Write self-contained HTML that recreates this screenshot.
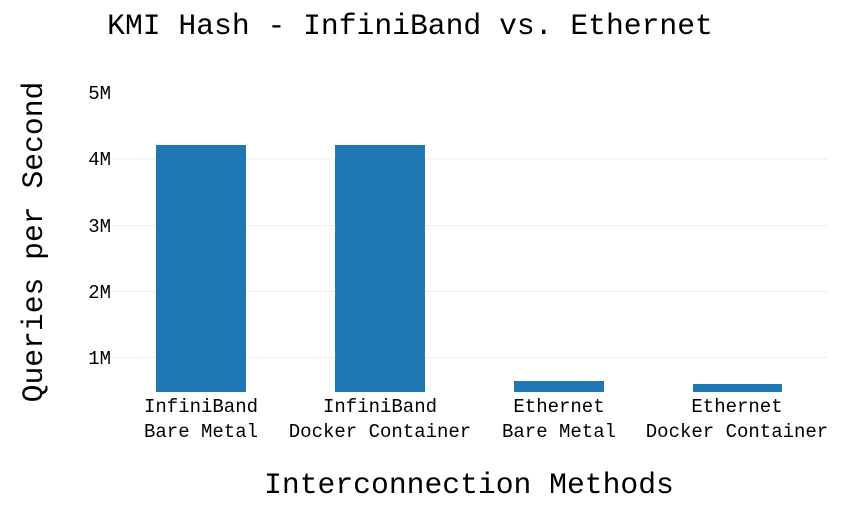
<!DOCTYPE html>
<html><head><style>body{margin:0;background:#fff}svg{display:block}text{font-family:"Liberation Mono",monospace;fill:#000}</style></head>
<body>
<svg width="856" height="521" xmlns="http://www.w3.org/2000/svg">
<g stroke="#eeeeee" stroke-width="1">
<line x1="112" x2="828" y1="159" y2="159"/>
<line x1="112" x2="828" y1="225.5" y2="225.5"/>
<line x1="112" x2="828" y1="291.5" y2="291.5"/>
<line x1="112" x2="828" y1="357.5" y2="357.5"/>
</g>
<g fill="#1f77b4">
<rect x="156" y="145" width="90" height="247"/>
<rect x="335" y="145" width="90" height="247"/>
<rect x="514" y="381" width="90" height="11"/>
<rect x="693" y="384" width="89" height="8"/>
</g>
<g font-size="19" text-anchor="end">
<text x="111" y="99">5M</text>
<text x="111" y="165">4M</text>
<text x="111" y="232">3M</text>
<text x="111" y="298">2M</text>
<text x="111" y="364">1M</text>
</g>
<g font-size="19" text-anchor="middle">
<text x="201" y="412">InfiniBand</text><text x="201" y="437">Bare Metal</text>
<text x="380" y="412">InfiniBand</text><text x="380" y="437">Docker Container</text>
<text x="559" y="412">Ethernet</text><text x="559" y="437">Bare Metal</text>
<text x="737" y="412">Ethernet</text><text x="737" y="437">Docker Container</text>
</g>
<text x="410" y="34" font-size="29.7" text-anchor="middle">KMI Hash - InfiniBand vs. Ethernet</text>
<text x="469" y="493" font-size="29.7" text-anchor="middle">Interconnection Methods</text>
<text transform="translate(42,242) rotate(-90)" font-size="29.7" text-anchor="middle">Queries per Second</text>
</svg>
</body></html>
